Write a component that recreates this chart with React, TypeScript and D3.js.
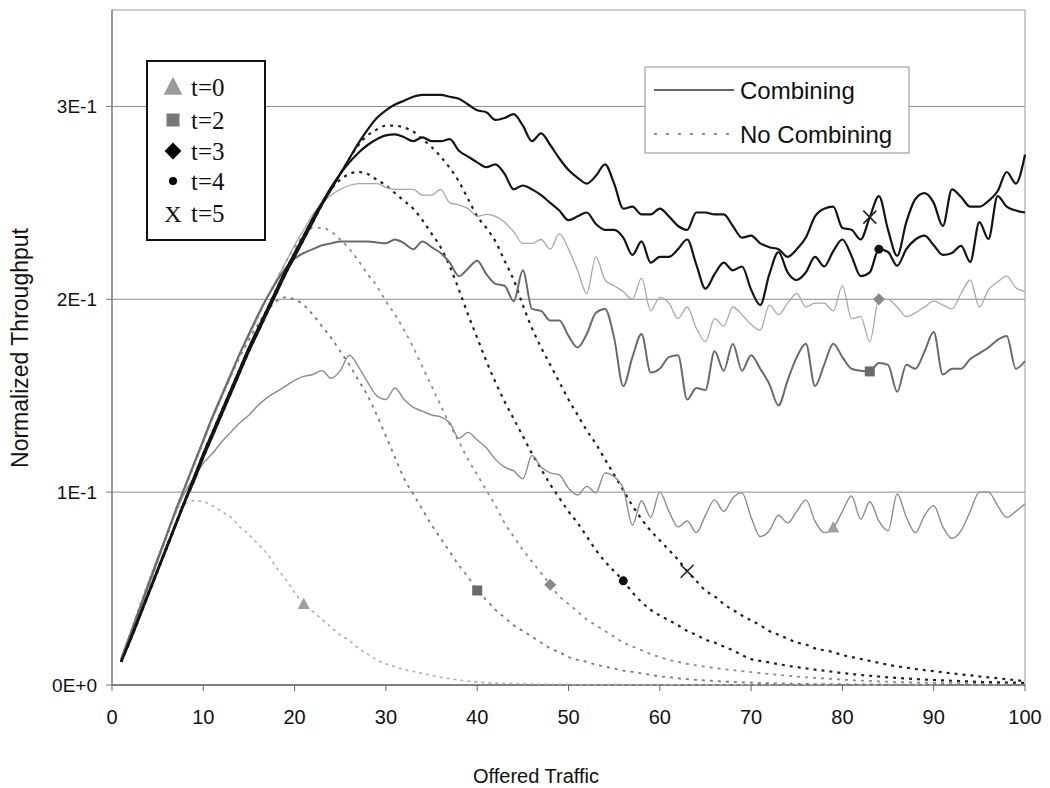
import React from 'react';
import * as d3 from 'd3';

// Offered traffic (x) sample points
const offeredTraffic: number[] = d3.range(1, 101);

// Normalized throughput, combining (solid lines)
const combT0 = [
  0.014, 0.027, 0.040, 0.053, 0.066, 0.078, 0.090, 0.100, 0.108, 0.115,
  0.120, 0.126, 0.131, 0.136, 0.140, 0.145, 0.149, 0.152, 0.155, 0.158,
  0.160, 0.161, 0.163, 0.159, 0.163, 0.171, 0.165, 0.157, 0.150, 0.148,
  0.154, 0.148, 0.144, 0.142, 0.140, 0.139, 0.136, 0.128, 0.131, 0.127,
  0.123, 0.117, 0.113, 0.111, 0.107, 0.119, 0.113, 0.110, 0.109, 0.102,
  0.0985, 0.103, 0.0997, 0.110, 0.108, 0.102, 0.083, 0.0955, 0.087, 0.100,
  0.090, 0.082, 0.085, 0.079, 0.088, 0.096, 0.090, 0.097, 0.0996, 0.087,
  0.077, 0.080, 0.088, 0.084, 0.090, 0.096, 0.085, 0.079, 0.0816, 0.090,
  0.098, 0.086, 0.095, 0.085, 0.080, 0.099, 0.087, 0.079, 0.088, 0.093,
  0.082, 0.076, 0.080, 0.090, 0.100, 0.100, 0.093, 0.087, 0.090, 0.094,
];
const combT2 = [
  0.013, 0.026, 0.039, 0.052, 0.065, 0.078, 0.091, 0.103, 0.115, 0.127,
  0.139, 0.150, 0.161, 0.172, 0.182, 0.192, 0.201, 0.209, 0.216, 0.221,
  0.224, 0.226, 0.228, 0.229, 0.230, 0.230, 0.230, 0.230, 0.2295, 0.229,
  0.231, 0.229, 0.226, 0.230, 0.227, 0.224, 0.219, 0.212, 0.216, 0.220,
  0.213, 0.208, 0.207, 0.199, 0.215, 0.195, 0.194, 0.189, 0.189, 0.181,
  0.175, 0.182, 0.193, 0.195, 0.180, 0.155, 0.170, 0.182, 0.162, 0.164,
  0.170, 0.171, 0.148, 0.154, 0.153, 0.173, 0.163, 0.177, 0.163, 0.171,
  0.164, 0.156, 0.145, 0.158, 0.170, 0.177, 0.155, 0.166, 0.177, 0.170,
  0.164, 0.163, 0.1626, 0.167, 0.166, 0.152, 0.166, 0.164, 0.173, 0.183,
  0.161, 0.164, 0.164, 0.169, 0.172, 0.175, 0.179, 0.181, 0.164, 0.168,
];
const combT3 = [
  0.013, 0.026, 0.039, 0.051, 0.064, 0.077, 0.090, 0.102, 0.114, 0.126,
  0.138, 0.149, 0.160, 0.171, 0.181, 0.191, 0.201, 0.210, 0.219, 0.228,
  0.236, 0.244, 0.250, 0.254, 0.257, 0.259, 0.260, 0.260, 0.260, 0.258,
  0.257, 0.257, 0.257, 0.254, 0.254, 0.257, 0.250, 0.249, 0.247, 0.243,
  0.244, 0.243, 0.240, 0.235, 0.229, 0.229, 0.231, 0.226, 0.234, 0.226,
  0.215, 0.203, 0.222, 0.210, 0.207, 0.204, 0.200, 0.211, 0.194, 0.201,
  0.198, 0.190, 0.196, 0.185, 0.178, 0.190, 0.186, 0.196, 0.192, 0.187,
  0.184, 0.197, 0.192, 0.198, 0.203, 0.196, 0.198, 0.198, 0.194, 0.207,
  0.190, 0.191, 0.178, 0.200, 0.200, 0.196, 0.191, 0.193, 0.196, 0.199,
  0.197, 0.195, 0.203, 0.210, 0.196, 0.205, 0.209, 0.212, 0.206, 0.204,
];
const combT4 = [
  0.012, 0.024, 0.036, 0.048, 0.060, 0.072, 0.084, 0.096, 0.108, 0.120,
  0.131, 0.142, 0.153, 0.164, 0.175, 0.185, 0.195, 0.205, 0.215, 0.224,
  0.233, 0.242, 0.250, 0.258, 0.265, 0.271, 0.276, 0.280, 0.283, 0.285,
  0.2855, 0.284, 0.282, 0.284, 0.282, 0.282, 0.283, 0.277, 0.274, 0.271,
  0.2685, 0.270, 0.265, 0.257, 0.259, 0.257, 0.254, 0.250, 0.246, 0.241,
  0.243, 0.245, 0.239, 0.236, 0.236, 0.232, 0.223, 0.230, 0.219, 0.222,
  0.222, 0.226, 0.231, 0.218, 0.2055, 0.213, 0.219, 0.215, 0.217, 0.205,
  0.197, 0.213, 0.2245, 0.214, 0.210, 0.214, 0.222, 0.217, 0.225, 0.231,
  0.2225, 0.212, 0.214, 0.226, 0.2245, 0.2174, 0.226, 0.231, 0.233, 0.228,
  0.223, 0.224, 0.2277, 0.2194, 0.240, 0.2313, 0.2535, 0.248, 0.246, 0.245,
];
const combT5 = [
  0.012, 0.023, 0.035, 0.047, 0.059, 0.071, 0.083, 0.095, 0.106, 0.118,
  0.129, 0.140, 0.151, 0.162, 0.173, 0.183, 0.193, 0.203, 0.213, 0.222,
  0.231, 0.240, 0.249, 0.257, 0.265, 0.273, 0.281, 0.288, 0.294, 0.298,
  0.301, 0.303, 0.305, 0.306, 0.306, 0.306, 0.305, 0.304, 0.301, 0.298,
  0.297, 0.293, 0.294, 0.296, 0.290, 0.282, 0.286, 0.280, 0.273, 0.267,
  0.263, 0.260, 0.264, 0.270, 0.260, 0.247, 0.248, 0.244, 0.244, 0.247,
  0.243, 0.238, 0.236, 0.245, 0.245, 0.244, 0.244, 0.238, 0.232, 0.233,
  0.229, 0.227, 0.226, 0.222, 0.226, 0.232, 0.243, 0.247, 0.248, 0.237,
  0.236, 0.231, 0.2426, 0.2535, 0.236, 0.2225, 0.240, 0.252, 0.255, 0.250,
  0.238, 0.257, 0.253, 0.248, 0.248, 0.251, 0.256, 0.266, 0.260, 0.275,
];

// Normalized throughput, no combining (dashed lines)
const noCombT0 = [
  0.014, 0.027, 0.041, 0.054, 0.066, 0.078, 0.089, 0.094, 0.0955, 0.095,
  0.093, 0.090, 0.087, 0.082, 0.078, 0.073, 0.068, 0.061, 0.055, 0.048,
  0.042, 0.038, 0.034, 0.030, 0.026, 0.023, 0.019, 0.016, 0.013, 0.011,
  0.0095, 0.008, 0.007, 0.006, 0.005, 0.004, 0.0033, 0.0026, 0.002, 0.0015,
  0.0012, 0.001, 0.0008, 0.0007, 0.0006, 0.0005, 0.0004, 0.0004, 0.0003, 0.0003,
  0.0002, 0.0002, 0.0002, 0.0002, 0.0002, 0.0002, 0.0002, 0.0002, 0.0002, 0.0002,
  0.0001, 0.0001, 0.0001, 0.0001, 0.0001, 0.0001, 0.0001, 0.0001, 0.0001, 0.0001,
  0.0001, 0.0001, 0.0001, 0.0001, 0.0001, 0.0001, 0.0001, 0.0001, 0.0001, 0.0001,
  0, 0, 0, 0, 0, 0, 0, 0, 0, 0,
  0, 0, 0, 0, 0, 0, 0, 0, 0, 0,
];
const noCombT2 = [
  0.013, 0.026, 0.039, 0.052, 0.065, 0.078, 0.091, 0.103, 0.115, 0.127,
  0.139, 0.150, 0.160, 0.170, 0.179, 0.187, 0.194, 0.199, 0.201, 0.200,
  0.197, 0.192, 0.186, 0.180, 0.173, 0.166, 0.158, 0.150, 0.140, 0.129,
  0.118, 0.107, 0.099, 0.091, 0.083, 0.076, 0.069, 0.062, 0.056, 0.049,
  0.044, 0.039, 0.035, 0.031, 0.028, 0.025, 0.022, 0.019, 0.017, 0.0145,
  0.013, 0.012, 0.0105, 0.0095, 0.0085, 0.0075, 0.0068, 0.006, 0.0052, 0.0045,
  0.004, 0.0035, 0.003, 0.0027, 0.0024, 0.0021, 0.0018, 0.0016, 0.0014, 0.0012,
  0.001, 0.0009, 0.0008, 0.0007, 0.0006, 0.0006, 0.0005, 0.0005, 0.0004, 0.0004,
  0.0003, 0.0003, 0.0003, 0.0003, 0.0002, 0.0002, 0.0002, 0.0002, 0.0002, 0.0002,
  0.0001, 0.0001, 0.0001, 0.0001, 0.0001, 0.0001, 0.0001, 0.0001, 0.0001, 0.0001,
];
const noCombT3 = [
  0.013, 0.026, 0.039, 0.051, 0.064, 0.077, 0.090, 0.102, 0.114, 0.126,
  0.138, 0.149, 0.160, 0.171, 0.181, 0.191, 0.201, 0.210, 0.219, 0.227,
  0.233, 0.237, 0.237, 0.235, 0.231, 0.226, 0.220, 0.213, 0.207, 0.199,
  0.192, 0.184, 0.175, 0.165, 0.155, 0.145, 0.135, 0.126, 0.117, 0.109,
  0.101, 0.093, 0.084, 0.077, 0.070, 0.064, 0.058, 0.052, 0.046, 0.042,
  0.038, 0.034, 0.031, 0.028, 0.025, 0.022, 0.020, 0.018, 0.016, 0.0145,
  0.013, 0.012, 0.011, 0.0102, 0.0095, 0.0088, 0.0082, 0.0077, 0.0072, 0.0067,
  0.0062, 0.0057, 0.0052, 0.0048, 0.0044, 0.004, 0.0037, 0.0034, 0.0031, 0.0028,
  0.0025, 0.0023, 0.0021, 0.0019, 0.0017, 0.0015, 0.0014, 0.0013, 0.0012, 0.0011,
  0.001, 0.0009, 0.0008, 0.0007, 0.0006, 0.0005, 0.0005, 0.0004, 0.0004, 0.0003,
];
const noCombT4 = [
  0.012, 0.024, 0.036, 0.048, 0.060, 0.072, 0.084, 0.096, 0.108, 0.120,
  0.131, 0.142, 0.153, 0.164, 0.175, 0.185, 0.195, 0.205, 0.215, 0.224,
  0.233, 0.242, 0.250, 0.257, 0.262, 0.265, 0.266, 0.265, 0.262, 0.259,
  0.255, 0.251, 0.247, 0.241, 0.234, 0.227, 0.217, 0.205, 0.192, 0.180,
  0.168, 0.157, 0.147, 0.138, 0.129, 0.120, 0.112, 0.104, 0.097, 0.090,
  0.084, 0.077, 0.070, 0.064, 0.059, 0.054, 0.048, 0.043, 0.039, 0.036,
  0.0335, 0.031, 0.028, 0.026, 0.0235, 0.022, 0.020, 0.018, 0.0155, 0.0134,
  0.0125, 0.0117, 0.0108, 0.010, 0.0093, 0.0086, 0.008, 0.0074, 0.0068, 0.0062,
  0.0057, 0.0052, 0.0048, 0.0044, 0.004, 0.0037, 0.0034, 0.0031, 0.0028, 0.0026,
  0.0024, 0.0022, 0.002, 0.0018, 0.0016, 0.0015, 0.0014, 0.0013, 0.0012, 0.0011,
];
const noCombT5 = [
  0.012, 0.023, 0.035, 0.047, 0.059, 0.071, 0.083, 0.095, 0.106, 0.118,
  0.129, 0.140, 0.151, 0.162, 0.173, 0.183, 0.193, 0.203, 0.213, 0.222,
  0.231, 0.240, 0.249, 0.257, 0.265, 0.273, 0.280, 0.285, 0.288, 0.290,
  0.290, 0.289, 0.287, 0.283, 0.279, 0.274, 0.268, 0.261, 0.252, 0.243,
  0.237, 0.230, 0.220, 0.210, 0.197, 0.185, 0.175, 0.166, 0.157, 0.148,
  0.140, 0.132, 0.125, 0.117, 0.109, 0.101, 0.093, 0.086, 0.080, 0.075,
  0.070, 0.065, 0.059, 0.054, 0.049, 0.046, 0.042, 0.039, 0.036, 0.0335,
  0.031, 0.028, 0.026, 0.024, 0.022, 0.021, 0.019, 0.018, 0.017, 0.0155,
  0.0145, 0.0135, 0.0125, 0.0115, 0.0105, 0.0097, 0.009, 0.0083, 0.0077, 0.0072,
  0.0066, 0.006, 0.0055, 0.005, 0.0045, 0.004, 0.0035, 0.003, 0.0025, 0.002,
];

const yTickValues = [0, 0.1, 0.2, 0.3];
const yTickLabels = ['0E+0', '1E-1', '2E-1', '3E-1'];
const xTickValues = [0, 10, 20, 30, 40, 50, 60, 70, 80, 90, 100];
const tLabels = ['t=0', 't=2', 't=3', 't=4', 't=5'];
const styleLabels = ['Combining', 'No Combining'];

type Marker = 'triangle' | 'square' | 'diamond' | 'circle' | 'cross';
interface Series {
  values: number[];
  color: string;
  width: number;
  dash: string | null;
  markerX: number;
  marker: Marker;
  markerColor: string;
}

const dashedSeries: Series[] = [
  { values: noCombT0, color: '#b0b0b0', width: 1.6, dash: '3,4', markerX: 21, marker: 'triangle', markerColor: '#a0a0a0' },
  { values: noCombT2, color: '#7a7a7a', width: 1.8, dash: '3,5', markerX: 40, marker: 'square', markerColor: '#6a6a6a' },
  { values: noCombT3, color: '#8c8c8c', width: 1.8, dash: '3,5', markerX: 48, marker: 'diamond', markerColor: '#8a8a8a' },
  { values: noCombT4, color: '#222', width: 2.2, dash: '3,5', markerX: 56, marker: 'circle', markerColor: '#111' },
  { values: noCombT5, color: '#222', width: 2.2, dash: '3,5', markerX: 63, marker: 'cross', markerColor: '#222' },
];
const solidSeries: Series[] = [
  { values: combT0, color: '#8c8c8c', width: 1.4, dash: null, markerX: 79, marker: 'triangle', markerColor: '#a0a0a0' },
  { values: combT3, color: '#a8a8a8', width: 1.3, dash: null, markerX: 84, marker: 'diamond', markerColor: '#8a8a8a' },
  { values: combT2, color: '#6a6a6a', width: 2.0, dash: null, markerX: 83, marker: 'square', markerColor: '#6a6a6a' },
  { values: combT4, color: '#141414', width: 2.2, dash: null, markerX: 84, marker: 'circle', markerColor: '#111' },
  { values: combT5, color: '#141414', width: 2.2, dash: null, markerX: 83, marker: 'cross', markerColor: '#222' },
];

const W = 1050;
const H = 788;
const SANS = 'Liberation Sans, Arial, Helvetica, sans-serif';
const SERIF = 'Liberation Serif, Times New Roman, serif';

function MarkerShape({ kind, cx, cy, color, s }: { kind: Marker; cx: number; cy: number; color: string; s: number }) {
  if (kind === 'triangle') {
    const h = s;
    return <path d={`M${cx},${cy - h * 0.6}L${cx + h * 0.55},${cy + h * 0.45}L${cx - h * 0.55},${cy + h * 0.45}Z`} fill={color} />;
  }
  if (kind === 'square') {
    return <rect x={cx - s / 2} y={cy - s / 2} width={s} height={s} fill={color} />;
  }
  if (kind === 'diamond') {
    const r = s * 0.6;
    return <path d={`M${cx},${cy - r}L${cx + r},${cy}L${cx},${cy + r}L${cx - r},${cy}Z`} fill={color} />;
  }
  if (kind === 'circle') {
    return <circle cx={cx} cy={cy} r={s / 2} fill={color} />;
  }
  const r = s / 2;
  return (
    <g stroke={color} strokeWidth={1.6}>
      <line x1={cx - r} y1={cy - r} x2={cx + r} y2={cy + r} />
      <line x1={cx - r} y1={cy + r} x2={cx + r} y2={cy - r} />
    </g>
  );
}

export default function App() {
  const left = 112, right = 1025, top = 10, bottom = 685;
  const x = d3.scaleLinear().domain([0, 100]).range([left, right]);
  const y = d3.scaleLinear().domain([0, 0.35]).range([bottom, top]);
  const line = d3
    .line<number>()
    .x((_, i) => x(offeredTraffic[i]))
    .y((d) => y(d))
    .curve(d3.curveMonotoneX);

  const markerPoint = (s: Series) => {
    const idx = offeredTraffic.indexOf(s.markerX);
    return { cx: x(offeredTraffic[idx]), cy: y(s.values[idx]) };
  };

  const markerSize: Record<Marker, number> = { triangle: 11, square: 10, diamond: 10, circle: 9, cross: 13 };

  const legendRows = [87, 120, 151, 181, 213];
  const legendMarkers: { kind: Marker; color: string; s: number }[] = [
    { kind: 'triangle', color: '#9a9a9a', s: 17 },
    { kind: 'square', color: '#777', s: 13 },
    { kind: 'diamond', color: '#000', s: 14 },
    { kind: 'circle', color: '#000', s: 8 },
  ];

  return (
    <svg width={W} height={H} style={{ position: 'absolute', left: 0, top: 0, background: '#fff' }}>
      <rect x={0} y={0} width={W} height={H} fill="#fff" />
      {/* gridlines */}
      {yTickValues.slice(1).map((v) => (
        <line key={v} x1={left} x2={right} y1={y(v)} y2={y(v)} stroke="#8c8c8c" strokeWidth={1} />
      ))}
      {/* plot border */}
      <rect x={left} y={top} width={right - left} height={bottom - top} fill="none" stroke="#999" strokeWidth={1} />
      <line x1={left} x2={left} y1={top} y2={bottom} stroke="#777" strokeWidth={1.2} />
      <line x1={left} x2={right} y1={bottom} y2={bottom} stroke="#666" strokeWidth={1.6} />
      {/* y ticks */}
      {yTickValues.map((v, i) => (
        <g key={v}>
          <line x1={left - 6} x2={left} y1={y(v)} y2={y(v)} stroke="#777" />
          <text x={97} y={y(v)} dy="0.35em" textAnchor="end" fontFamily={SANS} fontSize={19} fill="#111">
            {yTickLabels[i]}
          </text>
        </g>
      ))}
      {/* x ticks */}
      {xTickValues.map((v) => (
        <g key={v}>
          <line x1={x(v)} x2={x(v)} y1={bottom} y2={bottom + 6} stroke="#666" />
          <text x={x(v)} y={724} textAnchor="middle" fontFamily={SANS} fontSize={20} fill="#111">
            {v}
          </text>
        </g>
      ))}
      <text x={536} y={783} textAnchor="middle" fontFamily={SANS} fontSize={20} fill="#111">
        Offered Traffic
      </text>
      <text
        transform="translate(28,348) rotate(-90)"
        textAnchor="middle"
        fontFamily={SANS}
        fontSize={23}
        fill="#111"
      >
        Normalized Throughput
      </text>

      {/* dashed series */}
      {dashedSeries.map((s, i) => (
        <path key={'d' + i} d={line(s.values) || ''} fill="none" stroke={s.color} strokeWidth={s.width} strokeDasharray={s.dash || undefined} />
      ))}
      {/* solid series */}
      {solidSeries.map((s, i) => (
        <path key={'s' + i} d={line(s.values) || ''} fill="none" stroke={s.color} strokeWidth={s.width} strokeLinejoin="round" />
      ))}
      {/* markers */}
      {[...dashedSeries, ...solidSeries].map((s, i) => {
        const p = markerPoint(s);
        return <MarkerShape key={'m' + i} kind={s.marker} cx={p.cx} cy={p.cy} color={s.markerColor} s={markerSize[s.marker]} />;
      })}

      {/* legend: t values */}
      <rect x={147} y={61} width={118} height={179} fill="#fff" stroke="#111" strokeWidth={2} />
      {legendRows.map((ry, i) => (
        <g key={'lt' + i}>
          {i < 4 ? (
            <MarkerShape kind={legendMarkers[i].kind} cx={173} cy={ry} color={legendMarkers[i].color} s={legendMarkers[i].s} />
          ) : (
            <text x={173} y={ry} dy="0.36em" textAnchor="middle" fontFamily={SERIF} fontSize={24} fill="#111">
              X
            </text>
          )}
          <text x={191} y={ry} dy="0.36em" fontFamily={SERIF} fontSize={25} fill="#111">
            {tLabels[i]}
          </text>
        </g>
      ))}

      {/* legend: line styles */}
      <rect x={645} y={67} width={264} height={86} fill="#fff" stroke="#8c8c8c" strokeWidth={1} />
      <line x1={654} x2={734} y1={90} y2={90} stroke="#666" strokeWidth={1.8} />
      <text x={740} y={90} dy="0.36em" fontFamily={SANS} fontSize={24} fill="#111">
        {styleLabels[0]}
      </text>
      <line x1={654} x2={734} y1={134} y2={134} stroke="#666" strokeWidth={1.4} strokeDasharray="3,9" />
      <text x={740} y={134} dy="0.36em" fontFamily={SANS} fontSize={24} fill="#111">
        {styleLabels[1]}
      </text>
    </svg>
  );
}
